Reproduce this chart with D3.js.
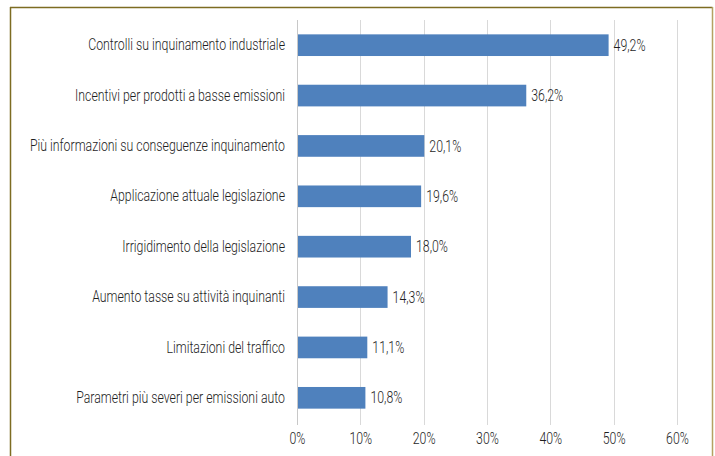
<!DOCTYPE html>
<html>
<head>
<meta charset="utf-8">
<script src="https://cdn.jsdelivr.net/npm/d3@7"></script>
<style>
  html, body { margin: 0; padding: 0; background: #fff; }
  svg { display: block; }
  .lbl { font-family: Roboto, "DejaVu Sans Condensed", sans-serif; font-weight: 300; fill: #1e1e1e; }
</style>
</head>
<body>
<svg id="chart" width="715" height="456"></svg>
<script>
// Survey answers, top to bottom
const categories = [
  "Controlli su inquinamento industriale",
  "Incentivi per prodotti a basse emissioni",
  "Più informazioni su conseguenze inquinamento",
  "Applicazione attuale legislazione",
  "Irrigidimento della legislazione",
  "Aumento tasse su attività inquinanti",
  "Limitazioni del traffico",
  "Parametri più severi per emissioni auto"
];
const values = [49.2, 36.2, 20.1, 19.6, 18.0, 14.3, 11.1, 10.8];
const tickValues = [0, 10, 20, 30, 40, 50, 60];

const svg = d3.select("#chart");
const W = 715, H = 456;
const margin = { left: 297, right: 38, top: 20, bottom: 33 };
const fontSize = 16;

// frame around the chart
svg.append("line").attr("x1", 10.5).attr("x2", 10.5).attr("y1", 7).attr("y2", H)
  .attr("stroke", "#7d6c22").attr("stroke-width", 1.5);
svg.append("line").attr("x1", 10).attr("x2", 712.5).attr("y1", 7.5).attr("y2", 7.5)
  .attr("stroke", "#7d6c22").attr("stroke-width", 1.5);
svg.append("line").attr("x1", 712.5).attr("x2", 712.5).attr("y1", 7).attr("y2", H)
  .attr("stroke", "#b4a262").attr("stroke-width", 1.5);

const x = d3.scaleLinear().domain([0, 60]).range([margin.left, W - margin.right]);
const y = d3.scaleBand().domain(categories).range([margin.top, H - margin.bottom])
  .paddingInner(0.57).paddingOuter(0.285);

const fmt = v => d3.format(".1f")(v).replace(".", ",") + "%";

// horizontal condensing of the label face: first category label spans ~197px
const probe = svg.append("text").attr("class", "lbl").attr("font-size", fontSize).text(categories[0]);
const k = 197 / probe.node().getComputedTextLength();
probe.remove();

// squeeze a text horizontally around its own anchor
function condense(sel) {
  sel.each(function () {
    const t = d3.select(this);
    const x0 = +t.attr("x") || 0;
    t.attr("x", x0 / k).attr("transform", `scale(${k},1)`);
  });
}

// vertical gridlines
svg.append("g").selectAll("line").data(tickValues).join("line")
  .attr("x1", d => Math.round(x(d)) + 0.5).attr("x2", d => Math.round(x(d)) + 0.5)
  .attr("y1", margin.top).attr("y2", H - margin.bottom + 2)
  .attr("stroke", d => d === 0 ? "#c8c8c8" : "#d9d9d9").attr("stroke-width", 1);

// x axis labels
const xAxis = d3.axisBottom(x).tickValues(tickValues).tickSize(0).tickPadding(0)
  .tickFormat(d => d + "%");
const gx = svg.append("g").attr("transform", `translate(0,${H - margin.bottom + 15})`).call(xAxis);
gx.select(".domain").remove();
gx.attr("font-family", null).attr("font-size", null);
gx.selectAll("text").attr("class", "lbl").attr("font-size", fontSize).attr("dy", "0.35em")
  .call(condense);

// category labels
const yAxis = d3.axisLeft(y).tickSize(0).tickPadding(12);
const gy = svg.append("g").attr("transform", `translate(${margin.left},0)`).call(yAxis);
gy.select(".domain").remove();
gy.attr("font-family", null).attr("font-size", null);
gy.selectAll("text").attr("class", "lbl").attr("font-size", fontSize).call(condense);

// bars
svg.append("g").selectAll("rect").data(values).join("rect")
  .attr("x", x(0) + 1)
  .attr("y", (d, i) => y(categories[i]))
  .attr("width", d => x(d) - x(0) - 1)
  .attr("height", y.bandwidth())
  .attr("fill", "#4f81bd");

// value labels
svg.append("g").selectAll("text").data(values).join("text")
  .attr("class", "lbl")
  .attr("x", d => x(d) + 5)
  .attr("y", (d, i) => y(categories[i]) + y.bandwidth() / 2)
  .attr("dy", "0.35em")
  .attr("font-size", fontSize)
  .text(fmt)
  .each(function () {
    const t = d3.select(this);
    t.attr("transform", `translate(${+t.attr("x")},${+t.attr("y")}) scale(${k},1)`)
      .attr("x", 0).attr("y", 0);
  });
</script>
</body>
</html>
